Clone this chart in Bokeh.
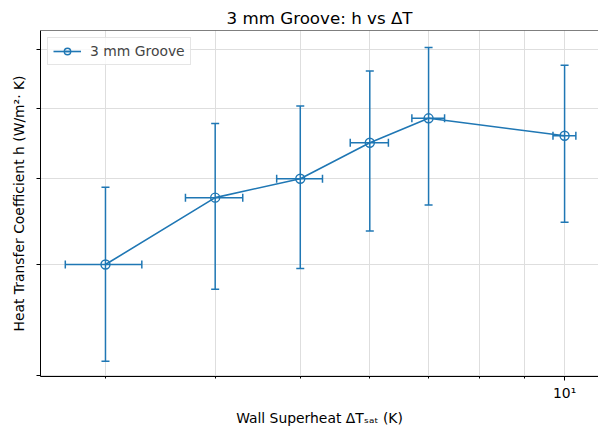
import math
from bokeh.plotting import figure
from bokeh.models import ColumnDataSource, FixedTicker, Legend, LegendItem, Span
from bokeh.embed import file_html
from bokeh.resources import INLINE

# ---- data ----
delta_T = [3, 4, 5, 6, 7, 10]
h_values = [4000, 4760, 5000, 5490, 5850, 5590]
h_err = [890, 1010, 1040, 1125, 1180, 1125]
dT_err = [0.3, 0.3, 0.3, 0.3, 0.3, 0.3]

x_major_ticks = [10]
x_minor_ticks = [3, 4, 5, 6, 7, 8, 9]
x_tick_labels = {10: "10¹"}
y_ticks = [3000, 4000, 5000, 6000, 7000]

series_name = "3 mm Groove"
title_text = "3 mm Groove: h vs ΔT"
x_label = "Wall Superheat ΔTₛₐₜ (K)"
y_label = "Heat Transfer Coefficient h (W/m²· K)"

BLUE = "#1f77b4"
FONT = "DejaVu Sans"

y_up = [v + e for v, e in zip(h_values, h_err)]
y_lo = [v - e for v, e in zip(h_values, h_err)]
x_up = [v + e for v, e in zip(delta_T, dT_err)]
x_lo = [v - e for v, e in zip(delta_T, dT_err)]

src = ColumnDataSource(dict(x=delta_T, y=h_values, y_up=y_up, y_lo=y_lo, x_up=x_up, x_lo=x_lo))
vcaps = ColumnDataSource(dict(x=delta_T + delta_T, y=y_up + y_lo))
hcaps = ColumnDataSource(dict(x=x_up + x_lo, y=h_values + h_values))

X_START, X_END = 2.53, 10.93
Y_START, Y_END = 2990, 7350

p = figure(width=598, height=430, x_axis_type="log", y_axis_type="log",
           x_range=(X_START, X_END), y_range=(Y_START, Y_END),
           output_backend="svg", toolbar_location=None,
           min_border_left=40, min_border_right=0, min_border_top=30, min_border_bottom=54,
           title=title_text)

p.background_fill_color = "white"
p.border_fill_color = "white"
p.outline_line_color = None

p.title.text_font = FONT
p.title.text_font_size = "16.7px"
p.title.text_font_style = "normal"
p.title.text_color = "black"
p.title.align = "center"
p.title.standoff = 6

# x axis
p.xaxis.ticker = FixedTicker(ticks=x_major_ticks, minor_ticks=x_minor_ticks)
p.xaxis.major_label_overrides = x_tick_labels
p.xaxis.axis_label = x_label
p.xaxis.major_tick_out = 4
p.xaxis.major_tick_in = 0
p.xaxis.minor_tick_out = 2
p.xaxis.minor_tick_in = 0
p.xaxis.major_label_standoff = 4
p.xaxis.axis_label_standoff = 6

# y axis
p.yaxis.ticker = FixedTicker(ticks=y_ticks, minor_ticks=[])
p.yaxis.major_label_overrides = {t: "" for t in y_ticks}
p.yaxis.axis_label = y_label
p.yaxis.major_tick_out = 4
p.yaxis.major_tick_in = 0
p.yaxis.minor_tick_out = 0
p.yaxis.minor_tick_in = 0
p.yaxis.major_label_standoff = 0
p.yaxis.axis_label_standoff = 10

for ax in (p.xaxis[0], p.yaxis[0]):
    ax.axis_line_color = "black"
    ax.axis_line_width = 1
    ax.major_tick_line_color = "black"
    ax.minor_tick_line_color = "black"
    ax.major_label_text_font = FONT
    ax.major_label_text_font_size = "13.9px"
    ax.major_label_text_color = "black"
    ax.axis_label_text_font = FONT
    ax.axis_label_text_font_size = "13.9px"
    ax.axis_label_text_font_style = "normal"
    ax.axis_label_text_color = "black"

# grid
p.xgrid.ticker = FixedTicker(ticks=x_major_ticks, minor_ticks=x_minor_ticks)
p.xgrid.grid_line_color = "#dedede"
p.xgrid.minor_grid_line_color = "#dedede"
p.ygrid.ticker = FixedTicker(ticks=y_ticks, minor_ticks=[])
p.ygrid.grid_line_color = "#dedede"

# top spine
p.add_layout(Span(location=Y_END, dimension="width", line_color="black", line_width=1))

# error bars (bars + caps)
p.segment("x", "y_lo", "x", "y_up", source=src, line_color=BLUE, line_width=1.5)
p.segment("x_lo", "y", "x_up", "y", source=src, line_color=BLUE, line_width=1.5)
p.scatter("x", "y", source=vcaps, marker="dash", size=8, line_color=BLUE, line_width=1.5)
hcap_r = p.scatter("x", "y", source=hcaps, marker="dash", size=8, angle=math.pi / 2,
                   line_color=BLUE, line_width=1.5)

line_r = p.line("x", "y", source=src, line_color=BLUE, line_width=1.6)
pts_r = p.scatter("x", "y", source=src, marker="circle", size=9, fill_color=None,
                  line_color=BLUE, line_width=1.4)

legend = Legend(items=[LegendItem(label=series_name, renderers=[line_r, hcap_r, pts_r])],
                location="top_left", margin=7, padding=5, spacing=0,
                glyph_width=28, glyph_height=16, label_height=16, label_standoff=9,
                label_text_font=FONT, label_text_font_size="13.9px",
                border_line_color="#cccccc", border_line_width=1,
                background_fill_color="white", background_fill_alpha=0.8)
p.add_layout(legend)

open("out.html", "w").write(file_html(p, INLINE))
